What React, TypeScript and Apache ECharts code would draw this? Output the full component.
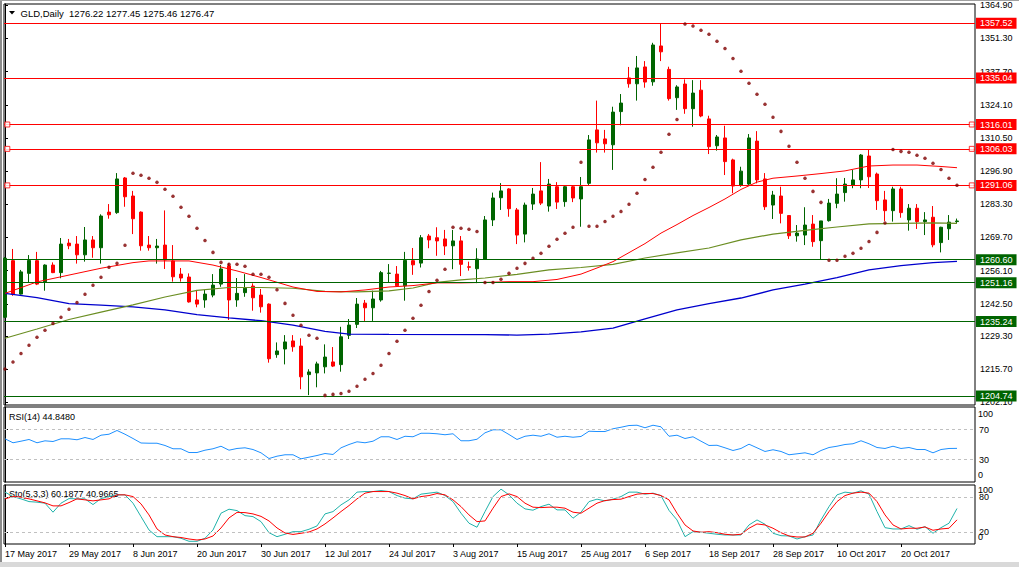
import React, { useEffect, useRef } from 'react';
import * as echarts from 'echarts';

// ---------- data ----------
const symbolName = 'GLD,Daily';
const dateTickBars = [0, 8, 16, 24, 32, 40, 48, 56, 64, 72, 80, 88, 96, 104, 112];
const dateLabels = ['17 May 2017', '29 May 2017', '8 Jun 2017', '20 Jun 2017', '30 Jun 2017', '12 Jul 2017', '24 Jul 2017', '3 Aug 2017', '15 Aug 2017', '25 Aug 2017', '6 Sep 2017', '18 Sep 2017', '28 Sep 2017', '10 Oct 2017', '20 Oct 2017'];
const priceTicks = [1364.9, 1351.3, 1337.7, 1324.1, 1310.5, 1296.9, 1283.3, 1269.7, 1256.1, 1242.5, 1229.3, 1215.7, 1202.1];

const open = [1237.0,1260.2,1246.5,1255.0,1260.2,1251.6,1258.4,1255.3,1267.4,1267.0,
1262.6,1268.7,1265.5,1280.1,1279.9,1294.1,1286.7,1280.1,1266.6,1265.5,
1266.6,1260.1,1254.7,1253.5,1244.1,1244.1,1246.1,1250.6,1258.1,1244.1,
1247.1,1249.8,1246.1,1242.4,1221.7,1224.0,1227.3,1225.2,1213.5,1214.2,
1216.7,1218.7,1217.6,1229.6,1234.1,1242.8,1240.9,1244.1,1255.0,1254.7,
1249.9,1260.2,1259.2,1270.3,1269.6,1269.1,1266.3,1268.3,1257.7,1256.9,
1260.9,1276.9,1286.0,1289.6,1281.0,1271.1,1283.4,1288.8,1282.6,1290.5,
1284.4,1290.5,1285.5,1291.9,1313.8,1310.1,1307.7,1321.3,1335.1,1332.7,
1339.6,1333.5,1348.2,1338.6,1327.0,1332.6,1322.5,1330.1,1318.3,1307.3,
1310.5,1301.5,1291.2,1291.6,1309.2,1293.7,1283.0,1286.7,1278.7,1270.4,
1270.7,1275.2,1268.4,1276.6,1283.7,1288.1,1291.2,1293.3,1303.1,1295.7,
1285.1,1280.7,1289.6,1276.9,1281.7,1276.2,1278.0,1267.6,1273.3,1276.22];
const high = [1261.7,1265.0,1256.4,1262.5,1263.8,1258.7,1259.5,1269.5,1269.1,1270.3,
1274.0,1270.3,1279.2,1283.4,1296.1,1294.5,1288.8,1280.4,1270.3,1269.1,
1280.8,1266.6,1257.2,1255.0,1248.2,1248.2,1254.7,1258.4,1259.1,1253.1,
1254.7,1250.9,1248.6,1242.7,1226.7,1229.7,1229.7,1228.4,1215.7,1218.8,
1225.9,1224.8,1233.1,1236.3,1244.9,1244.1,1247.9,1256.0,1258.8,1258.0,
1263.8,1265.4,1270.7,1271.1,1273.9,1272.8,1272.8,1270.3,1259.8,1265.3,
1278.5,1288.1,1292.0,1289.9,1281.8,1284.0,1290.0,1300.6,1293.7,1292.4,
1291.2,1291.2,1294.5,1311.7,1325.8,1313.8,1323.3,1328.5,1339.6,1344.1,
1342.0,1349.5,1357.5,1339.7,1332.1,1334.5,1334.2,1334.2,1319.6,1311.7,
1315.5,1302.0,1298.7,1312.1,1313.3,1296.1,1288.8,1290.5,1278.9,1274.8,
1282.1,1278.9,1276.5,1285.5,1294.0,1294.1,1297.4,1303.9,1305.6,1296.3,
1288.8,1290.5,1290.5,1283.4,1283.4,1280.1,1282.6,1274.1,1278.9,1277.45];
const low = [1236.7,1245.8,1246.3,1251.3,1250.2,1247.9,1255.1,1253.0,1264.9,1259.0,
1259.8,1261.4,1259.0,1277.4,1279.4,1282.3,1271.1,1264.3,1264.3,1259.0,
1256.8,1251.6,1251.6,1243.0,1241.1,1240.9,1245.2,1249.5,1235.9,1241.3,
1245.4,1239.7,1238.9,1218.4,1220.4,1217.7,1222.9,1207.5,1205.1,1208.3,
1214.0,1216.6,1214.7,1228.1,1232.6,1235.5,1235.5,1243.4,1251.3,1249.5,
1243.8,1254.4,1257.4,1265.3,1262.2,1262.5,1256.7,1253.9,1256.1,1251.0,
1260.5,1274.4,1281.0,1278.2,1267.0,1267.7,1281.0,1283.0,1280.3,1281.4,
1282.3,1284.2,1274.1,1291.1,1304.5,1304.5,1297.4,1315.7,1331.1,1325.8,
1331.1,1331.9,1342.0,1325.8,1322.0,1320.4,1315.1,1319.0,1303.9,1305.3,
1295.3,1287.8,1290.5,1291.2,1291.9,1281.0,1277.3,1275.5,1269.1,1268.0,
1266.6,1265.9,1260.5,1276.2,1281.7,1284.4,1289.9,1289.9,1290.0,1281.0,
1276.5,1276.2,1277.8,1272.5,1273.2,1270.7,1265.7,1263.6,1268.7,1275.46];
const close = [1261.2,1246.5,1255.6,1260.3,1250.6,1258.4,1255.3,1267.0,1266.3,1262.6,
1268.7,1265.5,1278.5,1279.0,1293.7,1286.4,1277.4,1266.3,1265.5,1266.2,
1260.5,1253.6,1253.1,1243.3,1242.4,1246.5,1250.2,1256.8,1244.1,1246.8,
1248.9,1245.0,1241.3,1220.0,1223.2,1226.9,1224.9,1212.6,1214.6,1217.9,
1220.7,1217.0,1229.0,1233.8,1242.4,1240.9,1244.5,1255.3,1255.1,1249.9,
1260.3,1258.5,1269.6,1268.7,1268.3,1266.2,1268.3,1258.7,1257.5,1260.9,
1276.9,1285.9,1288.8,1281.5,1270.7,1283.0,1287.5,1283.8,1291.6,1284.2,
1290.5,1285.9,1290.5,1309.7,1308.5,1308.1,1321.1,1324.8,1332.7,1339.2,
1333.4,1348.6,1345.8,1326.6,1331.4,1322.5,1328.9,1319.5,1306.9,1310.9,
1300.8,1290.8,1296.9,1310.5,1293.3,1282.3,1287.1,1279.6,1270.4,1271.5,
1274.8,1268.0,1276.5,1283.8,1287.5,1291.6,1293.3,1303.5,1294.6,1284.8,
1280.7,1289.6,1279.9,1281.7,1276.2,1276.9,1266.7,1273.9,1276.0,1276.47];

const sar = [1215.8,1218.7,1222.2,1225.5,1228.8,1231.7,1234.5,1237.0,1240.3,1243.1,
1246.4,1250.1,1253.4,1257.5,1259.1,1266.5,1296.0,1295.2,1294.0,1292.3,
1289.5,1286.6,1282.1,1278.4,1273.5,1268.5,1263.6,1259.5,1258.7,1258.7,
1257.9,1254.6,1254.6,1253.4,1248.3,1242.7,1237.8,1233.7,1229.6,1228.4,
1205.0,1205.4,1205.8,1206.7,1208.7,1211.6,1214.0,1217.3,1222.2,1227.2,
1231.7,1236.6,1241.9,1247.6,1252.2,1256.7,1273.9,1273.5,1273.1,1272.2,
1251.3,1251.3,1252.6,1255.0,1257.1,1259.1,1261.2,1263.2,1266.1,1269.0,
1271.4,1273.9,1300.5,1274.3,1274.3,1276.3,1278.4,1280.4,1283.3,1287.8,
1293.5,1298.5,1304.6,1312.0,1318.1,1357.2,1356.4,1354.6,1353.0,1350.1,
1347.2,1343.1,1337.8,1332.9,1328.4,1324.3,1319.0,1313.2,1307.1,1300.5,
1294.0,1288.6,1284.1,1260.4,1260.4,1262.0,1263.2,1265.3,1268.1,1271.8,
1275.6,1305.8,1305.0,1304.6,1303.4,1302.2,1300.1,1297.6,1294.0,1291.1];

const maRedBars = [0,4,8,12,16,18,23,26,29,32,36,39,42,45,48,51,54,57,60,63,66,69,72,74,76,78,80,82,84,86,88,90,92,94,96,99,102,105,108,111,114,117,119];
const maRed = [1246.8,1251.5,1254.3,1257.1,1259.4,1260.1,1260.1,1258.4,1256.0,1253.3,1249.4,1247.6,1247.4,1248.2,1249.4,1250.0,1251.1,1251.1,1251.3,1251.6,1251.6,1252.5,1254.7,1257.2,1259.8,1263.5,1267.2,1271.5,1275.0,1278.7,1282.0,1285.5,1289.4,1292.4,1294.0,1294.9,1295.9,1297.0,1299.0,1299.4,1299.4,1298.8,1298.3];
const maOliveBars = [0,4,8,12,16,20,24,28,32,36,40,44,48,51,54,57,60,64,68,72,76,80,84,88,92,96,100,104,108,112,116,119];
const maOlive = [1228.4,1232.2,1236.1,1239.1,1242.1,1245.3,1248.0,1249.2,1249.2,1248.9,1247.6,1247.4,1247.8,1249.0,1251.3,1252.3,1253.1,1254.6,1256.4,1257.4,1258.7,1261.3,1263.4,1265.4,1268.7,1271.1,1272.6,1274.0,1275.3,1275.5,1275.7,1275.5];
const maBlueBars = [0,4,8,12,16,20,24,28,32,36,40,43,48,60,64,68,72,76,80,84,88,92,96,100,104,108,112,116,119];
const maBlue = [1246.8,1245.1,1242.6,1242.0,1241.3,1240.0,1238.1,1236.8,1235.6,1233.8,1231.2,1230.1,1230.0,1229.9,1229.7,1230.1,1231.0,1232.6,1236.3,1240.0,1242.6,1244.9,1248.2,1250.6,1253.3,1256.4,1258.2,1259.4,1259.9];

const resistanceLevels = [1357.52, 1335.04, 1316.01, 1306.03, 1291.06];
const supportLevels = [1260.6, 1251.16, 1235.24, 1204.74];
const selectedLevels = [1316.01, 1306.03, 1291.06];

const rsi = [57.6,52.3,54.4,56.7,52.3,54.9,54.0,57.6,57.6,56.3,
59.3,56.7,62.4,63.7,68.7,63.7,58.0,52.0,51.7,51.7,
48.7,44.3,44.3,39.3,39.3,42.4,44.3,47.7,42.4,44.7,
45.6,43.3,38.9,31.3,34.4,36.3,36.3,30.9,33.1,35.3,
38.0,36.7,45.6,50.0,53.6,52.3,54.4,60.3,60.3,56.7,
61.0,60.3,65.0,65.0,64.3,63.0,64.3,55.0,55.0,57.0,
65.6,69.6,69.6,63.3,56.7,61.0,62.4,61.0,64.3,59.7,
61.0,59.7,60.7,67.7,67.3,67.3,71.0,73.0,75.3,75.7,
72.3,75.7,73.6,61.0,62.4,58.0,60.3,54.4,48.7,49.0,
45.6,42.0,44.7,50.4,45.6,40.7,43.0,40.7,36.3,37.6,
38.9,36.3,42.0,46.0,47.7,50.0,51.0,55.0,51.0,46.0,
44.7,47.7,44.7,46.0,43.3,43.3,38.9,43.3,44.7,44.848];
const rsiLevels = [30, 70];

const stochK = [87.9,80.4,76.5,71.9,70.9,69.2,53.9,69.2,77.0,76.5,
76.5,66.8,77.0,80.4,83.3,83.3,69.2,46.4,23.8,12.4,
12.4,12.4,9.7,4.6,4.6,9.7,23.8,52.2,59.0,56.6,
48.1,46.4,37.9,19.2,12.4,16.5,20.9,20.9,25.0,30.6,
51.0,54.9,66.3,74.8,87.9,88.9,88.9,90.6,88.9,82.1,
77.7,76.5,84.5,86.2,87.9,82.1,71.9,52.2,35.2,28.4,
54.9,80.4,93.0,83.3,69.2,59.5,57.3,63.4,67.5,57.8,
57.8,43.7,53.9,71.9,76.0,73.1,76.0,80.4,87.9,87.9,
84.5,86.2,82.0,57.0,40.8,12.4,20.9,19.9,18.2,16.5,
15.3,15.3,15.3,32.3,40.8,33.5,18.2,14.1,13.6,8.5,
12.4,15.3,40.8,63.4,83.3,87.9,86.2,90.1,84.5,54.9,
27.7,25.5,25.5,31.1,25.0,29.4,18.2,27.7,35.2,60.1877];
const stochD = [76.5,80.4,79.4,76.5,73.1,69.7,64.6,64.6,70.2,76.5,
74.8,73.1,74.8,76.5,83.3,83.3,80.4,68.0,49.3,25.5,
15.3,12.4,11.0,8.5,6.8,8.5,13.6,27.2,44.2,53.6,
53.2,51.0,46.8,39.1,27.2,18.7,16.2,18.2,20.4,25.5,
34.0,44.2,55.0,65.1,76.5,86.2,88.9,88.9,88.9,86.2,
82.1,76.5,80.4,82.1,85.5,83.3,74.8,63.4,49.3,37.9,
39.1,60.7,80.4,85.0,80.4,69.2,62.4,61.7,62.4,62.4,
60.7,53.9,52.2,60.7,69.2,73.6,75.3,76.0,80.4,84.5,
85.5,85.5,82.1,74.8,52.2,32.3,22.1,19.9,20.9,19.2,
16.5,15.3,16.5,26.7,34.0,32.3,26.7,19.2,13.6,11.9,
11.9,18.2,35.2,54.9,71.9,82.1,86.2,87.9,86.2,71.9,
49.3,32.3,25.5,26.7,26.7,28.9,23.3,25.5,26.7,40.9665];
const stochLevels = [20, 80];

// ---------- styling ----------
const FONT = "'Liberation Sans', Arial, sans-serif";
const X_MIN = -0.125;
const X_MAX = X_MIN + 971 / 8;
const RED = '#FF0000';
const GREEN = '#006400';

function levelLabel(bg: string) {
  return {
    show: true,
    position: 'end',
    distance: 1,
    color: '#fff',
    backgroundColor: bg,
    fontFamily: FONT,
    fontSize: 9,
    lineHeight: 10,
    padding: [0.5, 4, 0.5, 4],
    formatter: (p: any) => Number(p.value).toFixed(2),
  };
}

function buildOption() {
  const n = close.length;
  const last = n - 1;
  const candles = close.map((_, i) => [i, open[i], close[i], low[i], high[i]]);
  const header = `${symbolName}  ${open[last].toFixed(2)} ${high[last].toFixed(2)} ${low[last].toFixed(2)} ${close[last].toFixed(2)}`;
  const rsiTitle = `RSI(14) ${rsi[last].toFixed(4)}`;
  const stoTitle = `Sto(5,3,3) ${stochK[last].toFixed(4)} ${stochD[last].toFixed(4)}`;

  const levelData: any[] = [
    ...resistanceLevels.map((v) => ({ yAxis: v, lineStyle: { color: RED, width: 1, type: 'solid' }, label: levelLabel(RED) })),
    ...supportLevels.map((v) => ({ yAxis: v, lineStyle: { color: GREEN, width: 1, type: 'solid' }, label: levelLabel(GREEN) })),
    { yAxis: close[last], lineStyle: { opacity: 0, width: 0 }, label: levelLabel('#000') },
  ];

  const dashed = (levels: number[]) => ({
    silent: true,
    symbol: ['none', 'none'],
    label: { show: false },
    lineStyle: { color: '#C0C0C0', width: 1, type: [3, 3] },
    data: levels.map((v) => ({ yAxis: v })),
  });

  const smallText = (x: number, y: number, text: string, size = 9) => ({
    type: 'text',
    x,
    y,
    silent: true,
    style: { text, fill: '#000', fontFamily: FONT, fontSize: size, textVerticalAlign: 'middle', verticalAlign: 'middle' },
  });

  const axisLabelBase = { color: '#000', fontFamily: FONT, fontSize: 9 };

  return {
    animation: false,
    backgroundColor: '#ffffff',
    textStyle: { fontFamily: FONT },
    grid: [
      { left: 4, top: 4, width: 971, height: 401, show: true, borderColor: '#000', borderWidth: 1 },
      { left: 4, top: 407, width: 971, height: 75, show: true, borderColor: '#000', borderWidth: 1 },
      { left: 4, top: 485, width: 971, height: 59, show: true, borderColor: '#000', borderWidth: 1 },
    ],
    xAxis: [0, 1, 2].map((g) => ({
      type: 'value',
      gridIndex: g,
      min: X_MIN,
      max: X_MAX,
      splitLine: { show: false },
      axisLine: { show: false },
      axisTick: g === 2 ? { show: true, customValues: dateTickBars, length: 3, lineStyle: { color: '#000' } } : { show: false },
      axisLabel: g === 2
        ? {
            show: true,
            customValues: dateTickBars,
            align: 'left',
            margin: 5,
            ...axisLabelBase,
            formatter: (v: number) => dateLabels[dateTickBars.indexOf(Math.round(v))] ?? '',
          }
        : { show: false },
    })),
    yAxis: [
      {
        type: 'value', gridIndex: 0, position: 'right', min: 1201.05, max: 1365.4,
        splitLine: { show: false },
        axisLine: { show: true, lineStyle: { color: '#000' } },
        axisTick: { show: true, customValues: priceTicks, length: 3, lineStyle: { color: '#000' } },
        axisLabel: { show: true, customValues: priceTicks, margin: 5, ...axisLabelBase, formatter: (v: number) => v.toFixed(2) },
      },
      {
        type: 'value', gridIndex: 1, position: 'right', min: 0, max: 100,
        splitLine: { show: false },
        axisLine: { show: true, lineStyle: { color: '#000' } },
        axisTick: { show: true, customValues: rsiLevels, length: 3, lineStyle: { color: '#000' } },
        axisLabel: { show: true, customValues: rsiLevels, margin: 4, ...axisLabelBase },
      },
      {
        type: 'value', gridIndex: 2, position: 'right', min: 0, max: 100,
        splitLine: { show: false },
        axisLine: { show: true, lineStyle: { color: '#000' } },
        axisTick: { show: true, customValues: stochLevels, length: 3, lineStyle: { color: '#000' } },
        axisLabel: { show: true, customValues: stochLevels, margin: 4, ...axisLabelBase },
      },
    ],
    series: [
      {
        type: 'candlestick', xAxisIndex: 0, yAxisIndex: 0, silent: true, barWidth: 4,
        data: candles,
        itemStyle: { color: GREEN, color0: RED, borderColor: GREEN, borderColor0: RED, borderWidth: 1 },
        markLine: { silent: true, symbol: ['none', 'none'], z: 4, data: levelData },
        z: 2,
      },
      {
        type: 'line', xAxisIndex: 0, yAxisIndex: 0, silent: true, showSymbol: false, z: 3,
        data: maBlueBars.map((b, k) => [b, maBlue[k]]),
        lineStyle: { color: '#0000CD', width: 1.3 },
      },
      {
        type: 'line', xAxisIndex: 0, yAxisIndex: 0, silent: true, showSymbol: false, z: 3,
        data: maOliveBars.map((b, k) => [b, maOlive[k]]),
        lineStyle: { color: '#6B8E23', width: 1.2 },
      },
      {
        type: 'line', xAxisIndex: 0, yAxisIndex: 0, silent: true, showSymbol: false, z: 3,
        data: maRedBars.map((b, k) => [b, maRed[k]]),
        lineStyle: { color: RED, width: 1 },
      },
      {
        type: 'scatter', xAxisIndex: 0, yAxisIndex: 0, silent: true, z: 4,
        symbol: 'circle', symbolSize: 3.5,
        data: sar.map((v, i) => [i, v]),
        itemStyle: { color: '#800000' },
      },
      {
        type: 'scatter', xAxisIndex: 0, yAxisIndex: 0, silent: true, z: 6,
        symbol: 'rect', symbolSize: 5,
        data: [
          ...selectedLevels.map((v) => [0.29, v]),
          ...selectedLevels.map((v) => [120.85, v]),
        ],
        itemStyle: { color: '#ffffff', borderColor: RED, borderWidth: 1 },
      },
      {
        type: 'line', xAxisIndex: 1, yAxisIndex: 1, silent: true, showSymbol: false, z: 3,
        data: rsi.map((v, i) => [i, v]),
        lineStyle: { color: '#1E90FF', width: 1 },
        markLine: dashed(rsiLevels),
      },
      {
        type: 'line', xAxisIndex: 2, yAxisIndex: 2, silent: true, showSymbol: false, z: 3,
        data: stochK.map((v, i) => [i, v]),
        lineStyle: { color: '#20B2AA', width: 1 },
        markLine: dashed(stochLevels),
      },
      {
        type: 'line', xAxisIndex: 2, yAxisIndex: 2, silent: true, showSymbol: false, z: 3,
        data: stochD.map((v, i) => [i, v]),
        lineStyle: { color: RED, width: 1 },
      },
    ],
    graphic: [
      { type: 'rect', silent: true, shape: { x: 0, y: 0, width: 2, height: 567 }, style: { fill: '#8c8c8c' } },
      { type: 'rect', silent: true, shape: { x: 0, y: 0, width: 1019, height: 1 }, style: { fill: '#a0a0a0' } },
      { type: 'rect', silent: true, shape: { x: 0, y: 562, width: 1019, height: 5 }, style: { fill: '#d9d9d9' } },
      { type: 'polygon', silent: true, shape: { points: [[9, 11], [15, 11], [12, 14.5]] }, style: { fill: '#000' } },
      smallText(20.5, 13.5, header, 9.5),
      smallText(9, 416.5, rsiTitle),
      smallText(9, 493.5, stoTitle),
      smallText(978, 414.3, '100'),
      smallText(978, 475.3, '0'),
      smallText(978, 490, '100'),
      smallText(978, 537, '0'),
    ],
  };
}

export default function App() {
  const ref = useRef<HTMLDivElement>(null);
  useEffect(() => {
    if (!ref.current) return;
    const chart = echarts.init(ref.current, null, { renderer: 'svg' });
    chart.setOption(buildOption() as any);
    return () => chart.dispose();
  }, []);
  return (
    <div
      ref={ref}
      style={{ position: 'fixed', left: 0, top: 0, width: 1019, height: 567, background: '#fff' }}
    />
  );
}
